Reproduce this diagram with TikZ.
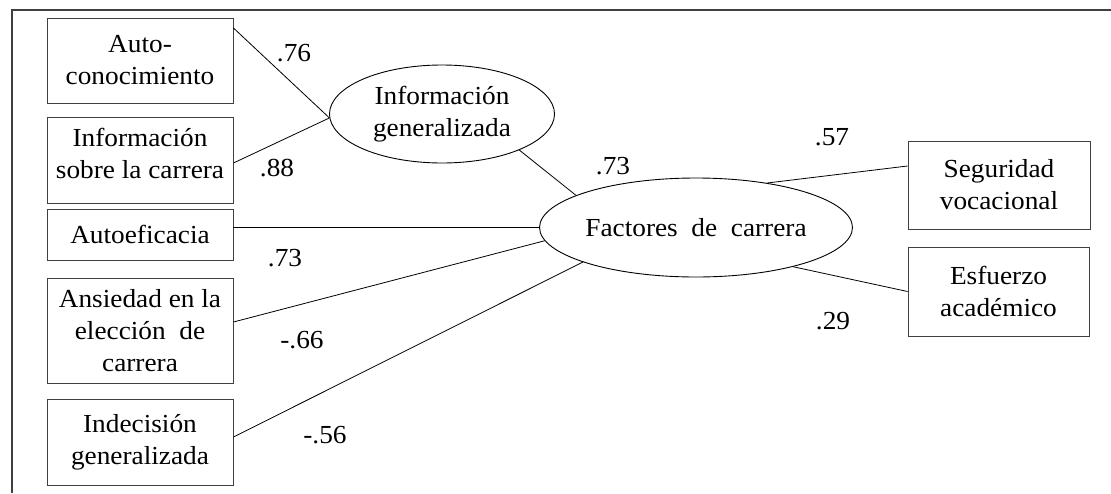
\documentclass[tikz,border=0pt]{standalone}
\usepackage{fontspec}
\setmainfont{Liberation Serif}[FakeStretch=1.05]
\usetikzlibrary{shapes.geometric}
\begin{document}
\begin{tikzpicture}[x=1pt,y=-1pt,
  every node/.style={font=\fontsize{26}{32}\selectfont},
  vbox/.style={draw=black!75, line width=0.9pt, minimum width=186pt, inner sep=0pt, align=center},
  latent/.style={draw=black, ellipse, line width=0.9pt, inner sep=0pt, align=center},
  path/.style={draw=black, line width=0.8pt},
  coef/.style={inner sep=0pt}]
\useasboundingbox (0,0) rectangle (1111,493);
\draw[black!75, line width=1.1pt] (12,493) -- (12,10) -- (1111,10);
% observed variables
\node[vbox, minimum height=85pt] (b1) at (140,60.5) {Auto-\\conocimiento};
\node[vbox, minimum height=86pt, text depth=14pt] (b2) at (140,160) {Información\\sobre la carrera};
\node[vbox, minimum height=51pt] (b3) at (140,234.5) {Autoeficacia};
\node[vbox, minimum height=105pt] (b4) at (140,330.5) {Ansiedad en la\\elección\ \ de\\carrera};
\node[vbox, minimum height=86pt] (b5) at (140,442) {Indecisión\\generalizada};
\node[vbox, minimum width=182pt, minimum height=88pt] (s) at (999,185) {Seguridad\\vocacional};
\node[vbox, minimum width=181pt, minimum height=89pt] (es) at (998.5,291.5) {Esfuerzo\\académico};
% latent variables
\node[latent, minimum width=225pt, minimum height=98pt] (e1) at (442,114) {Información\\generalizada};
\node[latent, minimum width=308pt, minimum height=99pt] (e2) at (696,227.5) {Factores\ \ de\ \ carrera};
% paths
\draw[path] ([yshift=32.5pt]b1.east) -- (e1.182);
\draw[path] ([yshift=-3pt]b2.east) -- (e1.182);
\draw[path] (e1.-25) -- (e2.165);
\draw[path] (b3.east |- e2.west) -- (e2.west);
\draw[path] ([yshift=8.5pt]b4.east) -- (e2.185);
\draw[path] ([yshift=5pt]b5.east) -- (e2.197);
\draw[path] (e2.32) -- ([yshift=19pt]s.west);
\draw[path] (e2.-22) -- (es.west);
% coefficients
\node[coef] (c1) at (294,53) {.76};
\node[coef] (c2) at (277,168) {.88};
\node[coef] (c3) at (613,166) {.73};
\node[coef] (c4) at (285,258) {.73};
\node[coef] (c5) at (302,340) {-.66};
\node[coef] (c6) at (325,435) {-.56};
\node[coef] (c7) at (832,137) {.57};
\node[coef] (c8) at (833,321) {.29};
\end{tikzpicture}
\end{document}
